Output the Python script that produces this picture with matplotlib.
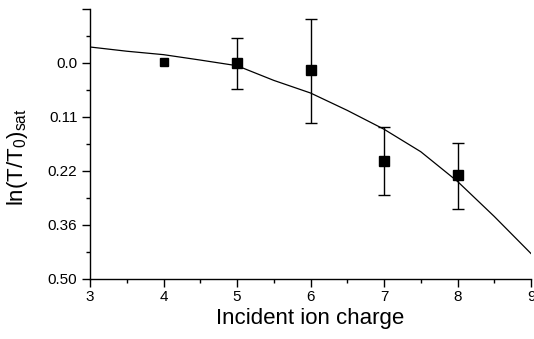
import numpy as np
import matplotlib
matplotlib.use("Agg")
import matplotlib.pyplot as plt
from matplotlib.scale import FuncScale

plt.rcParams['font.family'] = ['Liberation Sans', 'DejaVu Sans']
plt.rcParams['mathtext.fontset'] = 'custom'
plt.rcParams['mathtext.rm'] = 'Liberation Sans'

# y-axis labels sit at evenly spaced positions
tick_values = [-0.11, 0.0, 0.11, 0.22, 0.36, 0.50]
tick_labels = ['', '0.0', '0.11', '0.22', '0.36', '0.50']

# measured points
charge = [4, 5, 6, 7, 8]
ln_ratio = [-0.002, 0.0, 0.015, 0.199, 0.230]
err_low = [-0.002, -0.051, -0.089, 0.131, 0.162]
err_high = [-0.002, 0.053, 0.123, 0.282, 0.318]
has_err = [False, True, True, True, True]

# fitted curve
curve_x = [3, 3.5, 4, 4.5, 5, 5.5, 6, 6.5, 7, 7.5, 8, 8.5, 9]
curve_y = [-0.0326, -0.024, -0.017, -0.006, 0.0055, 0.0354, 0.0611, 0.0965,
           0.1349, 0.1807, 0.247, 0.3378, 0.434]

positions = np.arange(len(tick_values), dtype=float)
ext_vals = np.concatenate([[tick_values[0] - 10], tick_values, [tick_values[-1] + 10]])
ext_pos = np.concatenate([[positions[0] - 10 / 0.11], positions, [positions[-1] + 10 / 0.14]])


def fwd(v):
    return np.interp(v, ext_vals, ext_pos)


def inv(p):
    return np.interp(p, ext_pos, ext_vals)


fig = plt.figure(figsize=(5.34, 3.39), dpi=100)
ax = fig.add_axes([90 / 534, (339 - 279) / 339, (531 - 90) / 534, (279 - 9) / 339])
ax.set_yscale(FuncScale(ax.yaxis, (fwd, inv)))

ax.plot(curve_x, curve_y, color='black', lw=0.9)

for x, y, lo, hi, e in zip(charge, ln_ratio, err_low, err_high, has_err):
    if e:
        ax.errorbar([x], [y], yerr=[[y - lo], [hi - y]], fmt='s', color='black',
                    ms=6.8, capsize=4, elinewidth=1, capthick=1)
    else:
        ax.plot([x], [y], 's', color='black', ms=5.3)

ax.set_xlim(3, 9)
ax.set_ylim(tick_values[-1], tick_values[0])
ax.set_yticks(tick_values)
ax.set_yticklabels(tick_labels)
minor_y = inv(positions[:-1] + 0.5)
ax.set_yticks(minor_y, minor=True)
ax.set_xticks(range(3, 10))
ax.set_xticks(np.arange(3.5, 9, 1.0), minor=True)

for s in ['top', 'right']:
    ax.spines[s].set_visible(False)
for s in ['left', 'bottom']:
    ax.spines[s].set_linewidth(1)

ax.tick_params(axis='both', which='major', length=6, width=1, labelsize=11, direction='out')
ax.tick_params(axis='both', which='minor', length=3, width=1, direction='out')
ax.tick_params(axis='x', pad=2)
ax.tick_params(axis='y', pad=3)

ax.set_xlabel('Incident ion charge', fontsize=16, labelpad=3)
ax.set_ylabel(r'$\mathregular{ln(T/T_0)_{sat}}$', fontsize=16)
ax.yaxis.set_label_coords(-0.135, 0.45)

fig.savefig('out.png', dpi=100)
